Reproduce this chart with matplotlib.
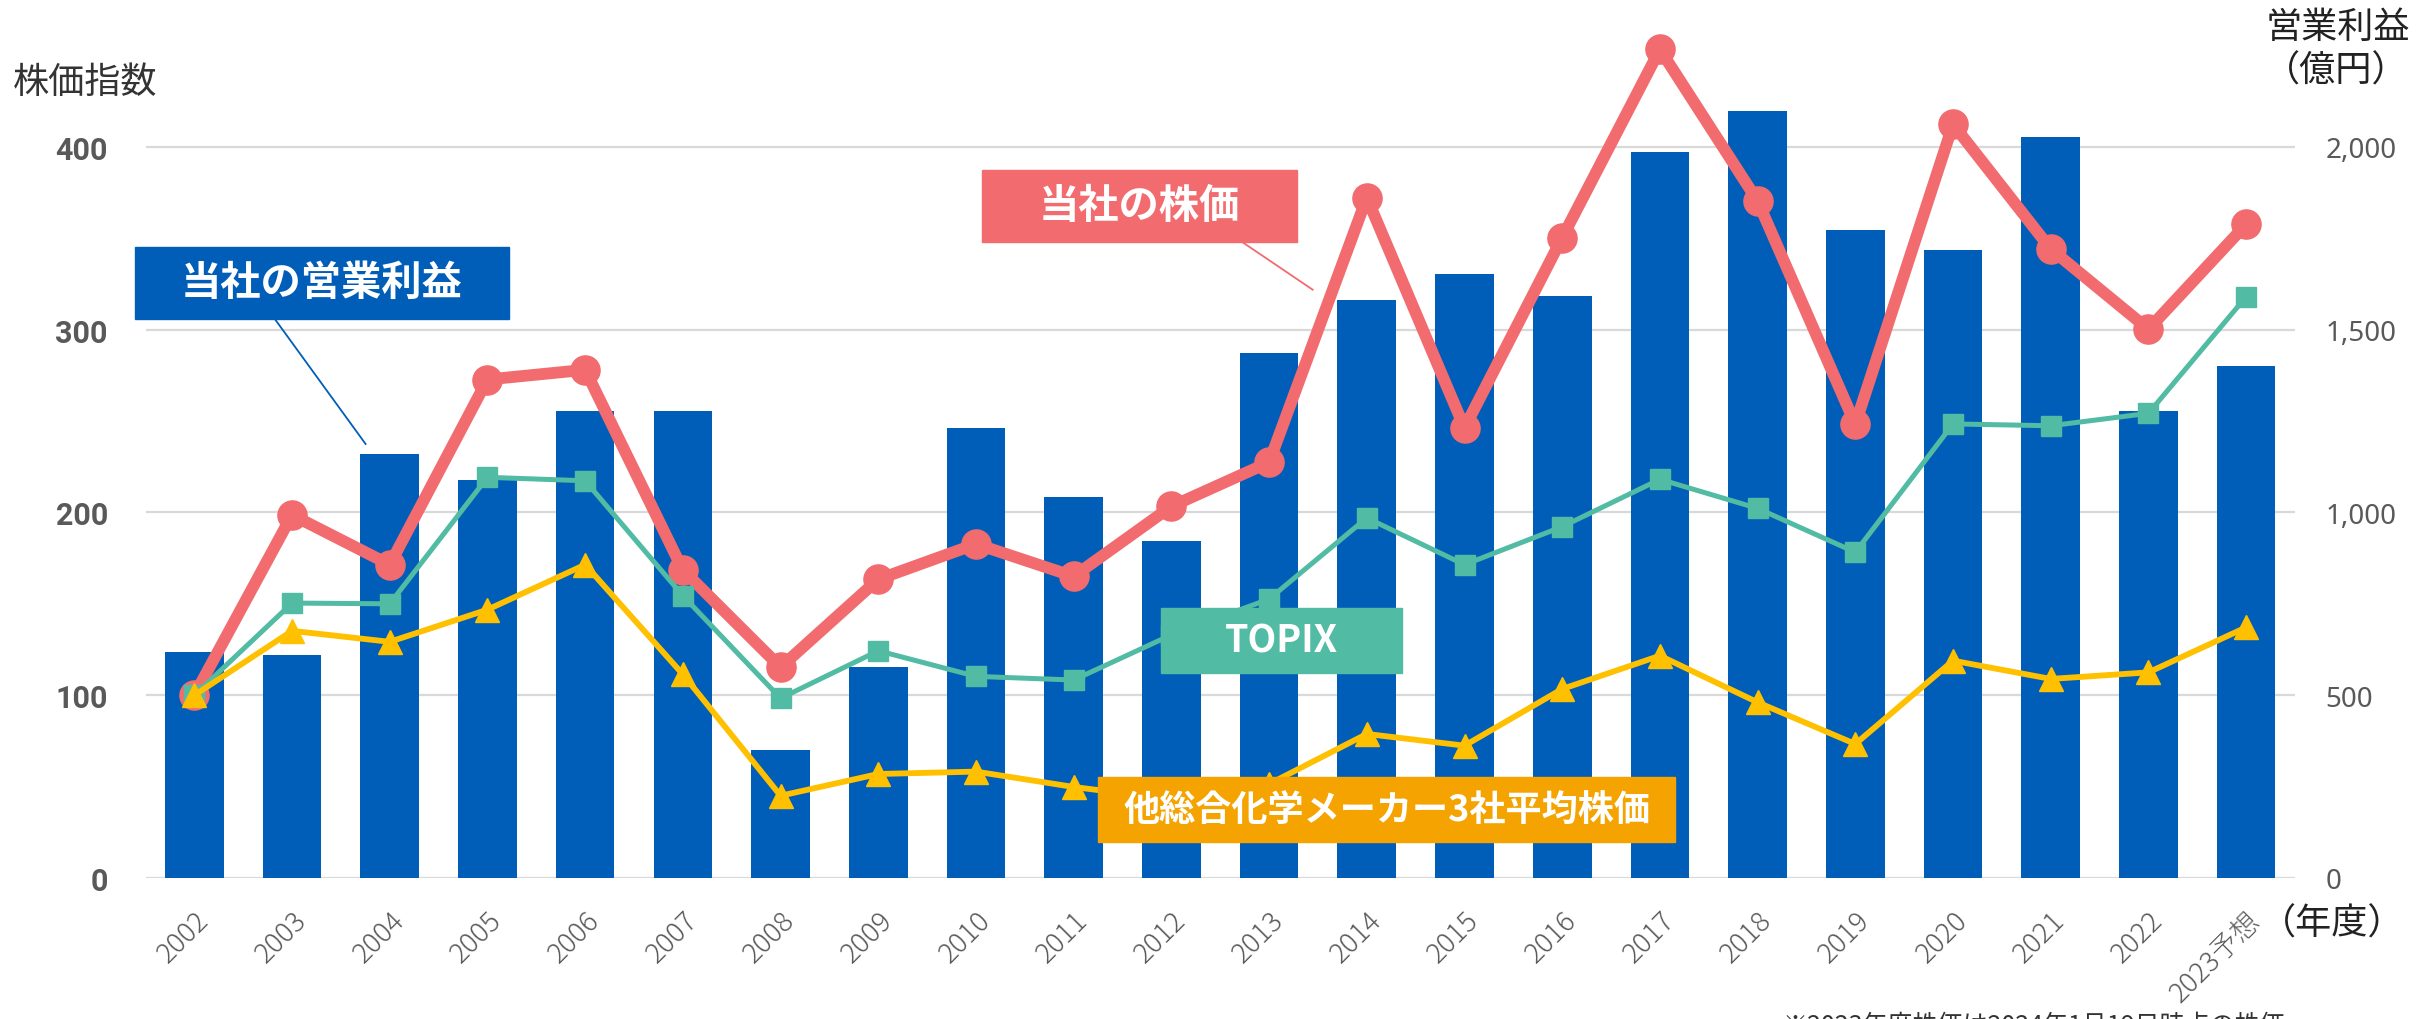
import matplotlib
matplotlib.use("Agg")
import matplotlib.pyplot as plt
from matplotlib.patches import Rectangle
from matplotlib.lines import Line2D
import numpy as np

plt.rcParams['font.family'] = ['Noto Sans CJK JP', 'DejaVu Sans']

# データ
years = ['2002', '2003', '2004', '2005', '2006', '2007', '2008', '2009', '2010', '2011',
         '2012', '2013', '2014', '2015', '2016', '2017', '2018', '2019', '2020', '2021',
         '2022', '2023予想']
profit = [617, 610, 1159, 1089, 1278, 1277, 351, 578, 1230, 1043,
          921, 1435, 1580, 1653, 1593, 1986, 2097, 1773, 1719, 2028,
          1277, 1400]
own_price = [100, 198.6, 171.4, 272.7, 278, 168.5, 115.3, 163.4, 182.7, 165,
             203.3, 227.4, 372.2, 246.2, 350.3, 453.3, 370.4, 248.2, 412.3, 344.1,
             300.2, 357.6]
topix = [100, 150.4, 150, 219.2, 217.3, 154.4, 98.3, 124.3, 110.3, 108.3,
         133, 152.6, 197, 171.4, 192.2, 218.1, 202.2, 178.2, 248.4, 247.4,
         254.2, 318]
peers = [100, 135.2, 129.2, 146.8, 171.4, 111.4, 45, 56.9, 58.2, 49.8,
         43, 51.4, 78.8, 72.4, 103.4, 121.6, 96.1, 73.3, 118.9, 108.9,
         112.5, 137.1]

left_ticks = [0, 100, 200, 300, 400]
right_ticks = [0, 500, 1000, 1500, 2000]

BLUE = '#005EB8'
RED = '#F26B6E'
TEAL = '#52BBA4'
YELLOW = '#FFC000'
ORANGE = '#F4A300'
GRAY = '#595959'

W, H = 2417, 1020
def fx(px):
    return px / W
def fy(py):
    return 1 - py / H

fig = plt.figure(figsize=(W / 100, H / 100), dpi=100)
ax = fig.add_axes([fx(145.5), fy(879), fx(2295) - fx(145.5), 470 * 1.828 / H])
ax2 = ax.twinx()

x = np.arange(len(years))

# 棒グラフ(右軸)
ax2.bar(x, profit, width=0.6, color=BLUE, zorder=2)
ax2.set_ylim(0, 2350)
ax2.set_yticks(right_ticks)
ax2.set_yticklabels([f'{v:,}' for v in right_ticks], family='Noto Sans', fontsize=20, color=GRAY)
ax2.yaxis.grid(True, color='#D9D9D9', lw=1.6, zorder=0)
ax2.set_axisbelow(True)
ax2.tick_params(axis='y', length=0, pad=22)

# 折れ線(左軸)
ax.set_zorder(ax2.get_zorder() + 1)
ax.patch.set_visible(False)
ax.plot(x, own_price, color=RED, lw=8.5, marker='o', ms=21, zorder=3)
ax.plot(x, topix, color=TEAL, lw=3.6, marker='s', ms=14, zorder=4)
ax.plot(x, peers, color=YELLOW, lw=4.2, marker='^', ms=17, zorder=5)
ax.set_ylim(0, 470)
ax.set_xlim(-0.5, len(years) - 0.5)
ax.set_yticks(left_ticks)
ax.set_yticklabels([str(v) for v in left_ticks], family='Roboto', fontweight='bold',
                   fontsize=22, color=GRAY)
ax.tick_params(axis='y', length=0, pad=27)
ax.set_xticks(x)
ax.set_xticklabels(years, rotation=45, ha='right', rotation_mode='anchor',
                   fontsize=20, fontweight='light', color=GRAY)
ax.tick_params(axis='x', length=0, pad=20)

for a in (ax, ax2):
    for s in a.spines.values():
        s.set_visible(False)

# 軸タイトル
fig.text(fx(13), fy(83), '株価指数', fontsize=26, color='#333333', va='center', ha='left')
fig.text(fx(2338), fy(28), '営業利益', fontsize=26, color='#222222', va='center', ha='center')
fig.text(fx(2336), fy(72), '（億円）', fontsize=26, color='#222222', va='center', ha='center')
fig.text(fx(2332), fy(925), '（年度）', fontsize=26, color='#222222', va='center', ha='center')
fig.text(fx(1783), fy(1013), '※2023年度株価は2024年1月19日時点の株価', fontsize=18,
         color='#333333', va='top', ha='left')

# ラベルボックス
def label_box(x0, y0, x1, y1, color, text, size):
    fig.add_artist(Rectangle((fx(x0), fy(y1)), fx(x1) - fx(x0), fy(y0) - fy(y1),
                             transform=fig.transFigure, color=color, zorder=10))
    fig.text(fx((x0 + x1) / 2), fy((y0 + y1) / 2), text, fontsize=size, color='white',
             fontweight='bold', ha='center', va='center', zorder=11)

def leader(x0, y0, x1, y1, color):
    fig.add_artist(Line2D([fx(x0), fx(x1)], [fy(y0), fy(y1)], transform=fig.transFigure,
                          color=color, lw=1.3, zorder=9))

leader(274.6, 319.7, 365.6, 445, BLUE)
label_box(134.8, 248, 509, 319.7, BLUE, '当社の営業利益', 29)
leader(1241.7, 242.7, 1312.7, 290.7, RED)
label_box(982, 171, 1297, 242.7, RED, '当社の株価', 29)
label_box(1160.7, 609, 1401.8, 673.7, TEAL, 'TOPIX', 27)
label_box(1098, 777.7, 1675, 842.7, ORANGE, '他総合化学メーカー3社平均株価', 26)

fig.savefig('out.png', dpi=100)
